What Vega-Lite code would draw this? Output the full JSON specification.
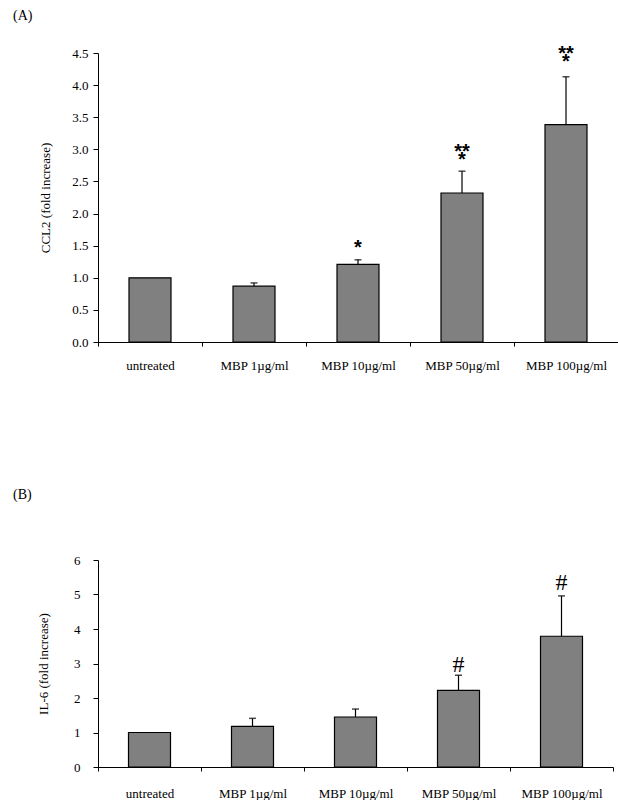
{
  "$schema": "https://vega.github.io/schema/vega-lite/v6.json",
  "padding": {"left": 13, "top": 8, "right": 0, "bottom": 0},
  "bounds": "flush",
  "spacing": 218,
  "config": {
    "view": {"stroke": null},
    "font": "Liberation Serif",
    "axis": {
      "labelFont": "Liberation Serif",
      "titleFont": "Liberation Serif",
      "labelFontSize": 13,
      "titleFontSize": 13,
      "titleFontWeight": "normal",
      "labelColor": "black",
      "titleColor": "black",
      "domainColor": "black",
      "tickColor": "black",
      "grid": false,
      "tickSize": 5,
      "domainWidth": 1,
      "tickWidth": 1,
      "labelOverlap": false
    }
  },
  "vconcat": [
    {
      "width": 520,
      "height": 289,
      "title": {"text": "(A)", "anchor": "start", "frame": "group", "dx": -85, "offset": 21, "fontSize": 14, "font": "Liberation Serif", "fontWeight": "normal", "color": "black"},
      "data": {"values": [
        {"cat": "untreated", "mean": 1.0, "hi": null},
        {"cat": "MBP 1µg/ml", "mean": 0.87, "hi": 0.92},
        {"cat": "MBP 10µg/ml", "mean": 1.21, "hi": 1.28},
        {"cat": "MBP 50µg/ml", "mean": 2.32, "hi": 2.66},
        {"cat": "MBP 100µg/ml", "mean": 3.385, "hi": 4.13}
      ]},
      "encoding": {
        "x": {"field": "cat", "type": "nominal",
              "sort": ["untreated", "MBP 1µg/ml", "MBP 10µg/ml", "MBP 50µg/ml", "MBP 100µg/ml"],
              "scale": {"paddingInner": 0, "paddingOuter": 0},
              "axis": {"title": null, "labelAngle": 0, "tickBand": "extent", "labelPadding": 13, "tickSize": 4}}
      },
      "layer": [
        {
          "mark": {"type": "bar", "size": 42, "fill": "#808080", "stroke": "black", "strokeWidth": 1.2},
          "encoding": {
            "y": {"field": "mean", "type": "quantitative", "title": "CCL2 (fold increase)",
                  "scale": {"domain": [0, 4.5], "nice": false},
                  "axis": {"values": [0, 0.5, 1, 1.5, 2, 2.5, 3, 3.5, 4, 4.5], "format": ".1f", "labelPadding": 5, "titlePadding": 19}}
          }
        },
        {
          "transform": [{"filter": "datum.hi != null"}],
          "mark": {"type": "rule", "strokeWidth": 1.2, "color": "black"},
          "encoding": {
            "y": {"field": "mean", "type": "quantitative", "title": "CCL2 (fold increase)",
                  "scale": {"domain": [0, 4.5], "nice": false},
                  "axis": {"values": [0, 0.5, 1, 1.5, 2, 2.5, 3, 3.5, 4, 4.5], "format": ".1f", "labelPadding": 5, "titlePadding": 19}},
            "y2": {"field": "hi"}
          }
        },
        {
          "transform": [{"filter": "datum.hi != null"}],
          "mark": {"type": "tick", "size": 7, "thickness": 1.5, "color": "black", "orient": "horizontal"},
          "encoding": {
            "y": {"field": "hi", "type": "quantitative", "title": "CCL2 (fold increase)",
                  "scale": {"domain": [0, 4.5], "nice": false},
                  "axis": {"values": [0, 0.5, 1, 1.5, 2, 2.5, 3, 3.5, 4, 4.5], "format": ".1f", "labelPadding": 5, "titlePadding": 19}}
          }
        },
        {
          "data": {"values": [
            {"cat": "MBP 10µg/ml", "pos": 1.54, "t": "*"},
            {"cat": "MBP 50µg/ml", "pos": 3.04, "t": "**"},
            {"cat": "MBP 50µg/ml", "pos": 2.91, "t": "*"},
            {"cat": "MBP 100µg/ml", "pos": 4.57, "t": "**"},
            {"cat": "MBP 100µg/ml", "pos": 4.43, "t": "*"}
          ]},
          "mark": {"type": "text", "font": "Liberation Sans", "fontSize": 20, "fontWeight": "bold", "baseline": "alphabetic", "dy": 11, "color": "black"},
          "encoding": {
            "y": {"field": "pos", "type": "quantitative", "title": "CCL2 (fold increase)",
                  "scale": {"domain": [0, 4.5], "nice": false},
                  "axis": {"values": [0, 0.5, 1, 1.5, 2, 2.5, 3, 3.5, 4, 4.5], "format": ".1f", "labelPadding": 5, "titlePadding": 19}},
            "text": {"field": "t"}
          }
        }
      ]
    },
    {
      "width": 515,
      "height": 207,
      "title": {"text": "(B)", "anchor": "start", "frame": "group", "dx": -85, "offset": 52, "fontSize": 14, "font": "Liberation Serif", "fontWeight": "normal", "color": "black"},
      "data": {"values": [
        {"cat": "untreated", "mean": 1.0, "hi": null},
        {"cat": "MBP 1µg/ml", "mean": 1.18, "hi": 1.41},
        {"cat": "MBP 10µg/ml", "mean": 1.45, "hi": 1.68},
        {"cat": "MBP 50µg/ml", "mean": 2.22, "hi": 2.66},
        {"cat": "MBP 100µg/ml", "mean": 3.79, "hi": 4.96}
      ]},
      "encoding": {
        "x": {"field": "cat", "type": "nominal",
              "sort": ["untreated", "MBP 1µg/ml", "MBP 10µg/ml", "MBP 50µg/ml", "MBP 100µg/ml"],
              "scale": {"paddingInner": 0, "paddingOuter": 0},
              "axis": {"title": null, "labelAngle": 0, "tickBand": "extent", "labelPadding": 16, "tickSize": 4}}
      },
      "layer": [
        {
          "mark": {"type": "bar", "size": 42, "fill": "#808080", "stroke": "black", "strokeWidth": 1.2},
          "encoding": {
            "y": {"field": "mean", "type": "quantitative", "title": "IL-6 (fold increase)",
                  "scale": {"domain": [0, 6], "nice": false},
                  "axis": {"values": [0, 1, 2, 3, 4, 5, 6], "format": "d", "labelPadding": 13, "titlePadding": 23}}
          }
        },
        {
          "transform": [{"filter": "datum.hi != null"}],
          "mark": {"type": "rule", "strokeWidth": 1.2, "color": "black"},
          "encoding": {
            "y": {"field": "mean", "type": "quantitative", "title": "IL-6 (fold increase)",
                  "scale": {"domain": [0, 6], "nice": false},
                  "axis": {"values": [0, 1, 2, 3, 4, 5, 6], "format": "d", "labelPadding": 13, "titlePadding": 23}},
            "y2": {"field": "hi"}
          }
        },
        {
          "transform": [{"filter": "datum.hi != null"}],
          "mark": {"type": "tick", "size": 7, "thickness": 1.5, "color": "black", "orient": "horizontal"},
          "encoding": {
            "y": {"field": "hi", "type": "quantitative", "title": "IL-6 (fold increase)",
                  "scale": {"domain": [0, 6], "nice": false},
                  "axis": {"values": [0, 1, 2, 3, 4, 5, 6], "format": "d", "labelPadding": 13, "titlePadding": 23}}
          }
        },
        {
          "data": {"values": [
            {"cat": "MBP 50µg/ml", "pos": 3.0, "t": "#"},
            {"cat": "MBP 100µg/ml", "pos": 5.35, "t": "#"}
          ]},
          "mark": {"type": "text", "font": "Liberation Serif", "fontSize": 24, "baseline": "alphabetic", "dy": 8, "color": "black"},
          "encoding": {
            "y": {"field": "pos", "type": "quantitative", "title": "IL-6 (fold increase)",
                  "scale": {"domain": [0, 6], "nice": false},
                  "axis": {"values": [0, 1, 2, 3, 4, 5, 6], "format": "d", "labelPadding": 13, "titlePadding": 23}},
            "text": {"field": "t"}
          }
        }
      ]
    }
  ]
}
